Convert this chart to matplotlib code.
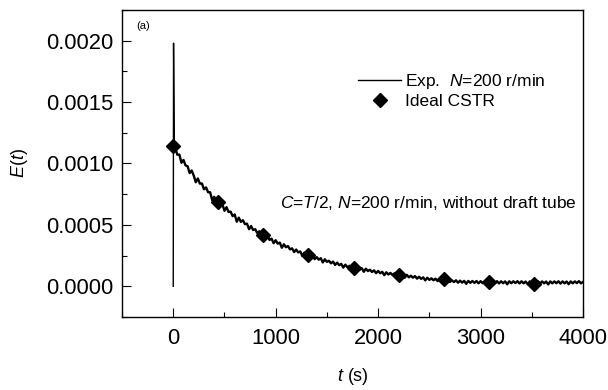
import matplotlib
matplotlib.use("Agg")
import matplotlib.pyplot as plt
from matplotlib.ticker import MultipleLocator

plt.rcParams['font.family'] = ['Liberation Sans', 'DejaVu Sans']
plt.rcParams['mathtext.fontset'] = 'custom'
plt.rcParams['mathtext.rm'] = 'Liberation Sans'
plt.rcParams['mathtext.it'] = 'Liberation Sans:italic'

exp_t = [0, 3, 10] + list(range(20, 4001, 20))
exp_E_micro = [
    0, 1980, 1150,
    1124, 1071, 1073, 1006, 1029, 984, 978, 922, 943, 902,
    847, 878, 836, 837, 790, 805, 766, 766, 701, 729,
    692, 702, 666, 668, 615, 644, 605, 608, 571, 585,
    526, 559, 525, 538, 506, 510, 465, 491, 458, 465,
    434, 448, 396, 427, 401, 410, 377, 388, 351, 375,
    347, 356, 314, 342, 318, 328, 300, 309, 279, 299,
    276, 284, 247, 274, 250, 261, 241, 252, 221, 238,
    217, 229, 194, 220, 199, 208, 187, 201, 174, 193,
    172, 183, 152, 176, 155, 167, 151, 162, 137, 153,
    135, 148, 118, 143, 124, 135, 116, 130, 107, 125,
    106, 118, 91, 114, 96, 109, 92, 106, 83, 100,
    83, 97, 70, 93, 73, 86, 70, 83, 62, 78,
    60, 73, 48, 70, 52, 65, 49, 62, 42, 58,
    41, 55, 30, 52, 35, 49, 34, 49, 29, 46,
    30, 44, 20, 44, 28, 43, 28, 43, 24, 42,
    25, 40, 17, 41, 25, 47, 24, 42, 23, 41,
    25, 40, 16, 41, 25, 41, 26, 42, 23, 41,
    24, 39, 16, 40, 24, 40, 20, 41, 22, 40,
    24, 39, 15, 40, 24, 40, 25, 41, 22, 40,
    24, 39, 17, 40, 24, 40, 26, 42, 24, 36,
]
exp_E = [v * 1e-6 for v in exp_E_micro]

# Ideal CSTR points
cstr_t = [0, 440, 880, 1320, 1760, 2200, 2640, 3080, 3520]
cstr_E = [0.00114, 0.000690, 0.000418, 0.000253, 0.000153,
          0.0000925, 0.0000560, 0.0000339, 0.0000205]

x_ticks = [0, 1000, 2000, 3000, 4000]
y_ticks = [0.0000, 0.0005, 0.0010, 0.0015, 0.0020]
y_ticklabels = ['0.0000', '0.0005', '0.0010', '0.0015', '0.0020']

fig = plt.figure(figsize=(6.08, 3.90), dpi=100)
ax = fig.add_axes([0.2007, 0.1872, 0.7582, 0.7872])

# injection spike drawn thin, the noisy decay as a thicker band
ax.plot(exp_t[:3], exp_E[:3], color='black', lw=1.0,
        label=r'Exp.  $N$=200 r/min')
ax.plot(exp_t[2:], exp_E[2:], color='black', lw=1.7)
ax.plot(cstr_t, cstr_E, linestyle='none', marker='D', color='black',
        ms=7.5, label='Ideal CSTR')

ax.set_xlim(-500, 4000)
ax.set_ylim(-0.00025, 0.00225)
ax.set_xticks(x_ticks)
ax.set_yticks(y_ticks)
ax.set_yticklabels(y_ticklabels)
ax.xaxis.set_minor_locator(MultipleLocator(500))
ax.yaxis.set_minor_locator(MultipleLocator(0.00025))
ax.tick_params(which='both', direction='in', top=False, right=False,
               labelsize=15.8, width=0.8)
ax.tick_params(which='major', length=6.8)
ax.tick_params(axis='x', which='major', pad=8)
ax.tick_params(axis='y', which='major', pad=6.5)
ax.tick_params(which='minor', length=3.6)
for s in ax.spines.values():
    s.set_linewidth(1.0)

ax.set_xlabel(r'$t$ (s)', fontsize=13, labelpad=12)
ax.set_ylabel(r'$E$($t$)', fontsize=13, labelpad=11)

ax.text(0.030, 0.964, '(a)', transform=ax.transAxes, fontsize=8,
        ha='left', va='top')
ax.text(0.987, 0.371, r'$C$=$T$/2, $N$=200 r/min, without draft tube',
        transform=ax.transAxes, fontsize=12.5, ha='right', va='center')

leg = ax.legend(loc='upper left', bbox_to_anchor=(0.512, 0.797),
                frameon=False, fontsize=12.5, handlelength=2.5,
                handletextpad=0.2, labelspacing=0.15, borderaxespad=0,
                borderpad=0)

fig.savefig('out.png', dpi=100)
